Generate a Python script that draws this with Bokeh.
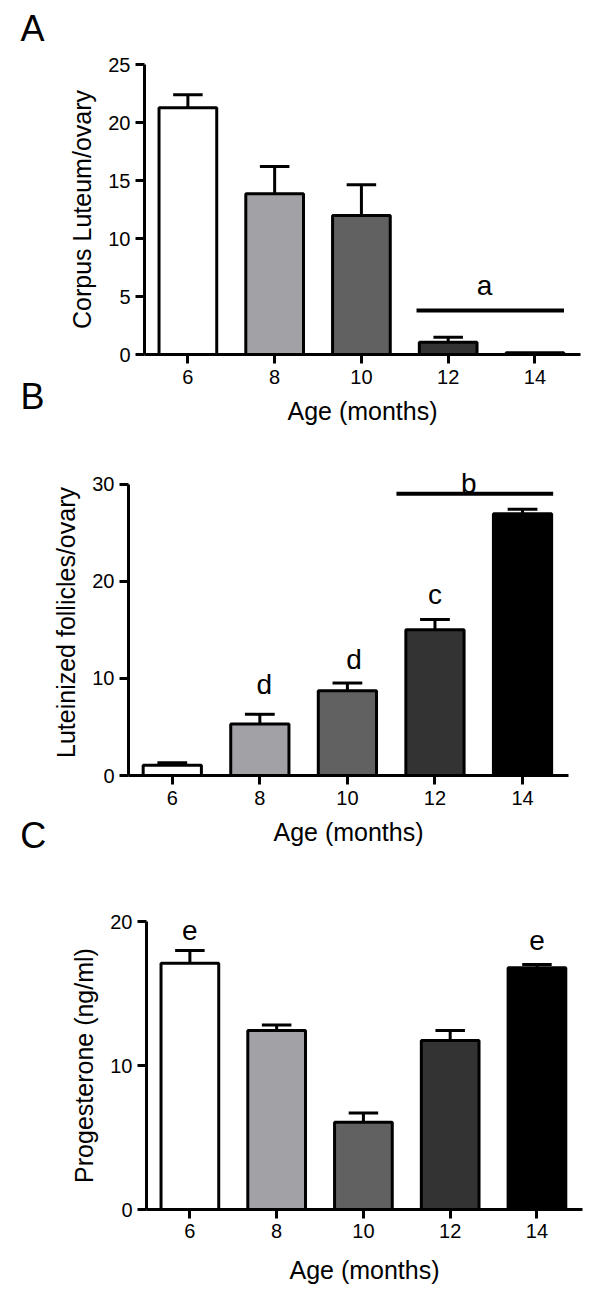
from bokeh.plotting import figure
from bokeh.models import ColumnDataSource, LabelSet, Label, FixedTicker, Range1d
from bokeh.embed import file_html
from bokeh.resources import INLINE
from bokeh.core.properties import value

# ---------------- data ----------------
ages = [6, 8, 10, 12, 14]
bar_colors = ["#ffffff", "#a2a1a6", "#616161", "#333333", "#000000"]

corpus_luteum_mean = [21.27, 13.85, 11.98, 1.06, 0.15]
corpus_luteum_sem = [1.12, 2.35, 2.65, 0.43, 0.0]

luteinized_mean = [1.05, 5.31, 8.73, 15.00, 26.95]
luteinized_sem = [0.25, 0.99, 0.79, 1.06, 0.45]

progesterone_mean = [17.10, 12.43, 6.06, 11.74, 16.78]
progesterone_sem = [0.89, 0.39, 0.65, 0.69, 0.23]

# significance letters (x in months, y in axis units)
sig_a_text = ["a"]
sig_a_x = [12.84]
sig_a_y = [5.09]
sig_a_bar = ([11.27, 14.67], 3.79)

sig_b_text = ["b", "c", "d", "d"]
sig_b_x = [12.77, 12.0, 8.1, 10.15]
sig_b_y = [29.1, 17.64, 8.39, 10.96]
sig_b_bar = ([11.12, 14.70], 29.0)

sig_c_text = ["e", "e"]
sig_c_x = [6.0, 14.0]
sig_c_y = [18.75, 17.99]

FONT = "Liberation Sans"
BAR_W = 1.33
CAP_W = 0.68
X_RANGE = (5.0, 15.05)
FIG_W = 592


def make_panel(means, sems, y_end, y_bound, y_ticks, y_label, left, fw, top, fh,
               bottom, tick_standoff, xlab_standoff):
    p = figure(frame_width=fw, frame_height=fh,
               min_border_left=left, min_border_right=FIG_W - left - fw,
               min_border_top=top, min_border_bottom=bottom,
               x_range=Range1d(*X_RANGE), y_range=Range1d(0, y_end),
               output_backend="svg", toolbar_location=None)
    p.outline_line_color = None
    p.xgrid.grid_line_color = None
    p.ygrid.grid_line_color = None
    p.background_fill_color = "white"

    src = ColumnDataSource(dict(x=ages, top=means, color=bar_colors))
    p.vbar(x="x", top="top", bottom=0, width=BAR_W, fill_color="color",
           line_color="black", line_width=3, source=src)

    ex, elo, ehi = [], [], []
    for a, m, s in zip(ages, means, sems):
        if s > 0:
            ex.append(a)
            elo.append(m)
            ehi.append(m + s)
    esrc = ColumnDataSource(dict(
        x=ex, lo=elo, hi=ehi,
        cx0=[a - CAP_W / 2 for a in ex], cx1=[a + CAP_W / 2 for a in ex]))
    p.segment(x0="x", y0="lo", x1="x", y1="hi", line_color="black",
              line_width=3, source=esrc)
    p.segment(x0="cx0", y0="hi", x1="cx1", y1="hi", line_color="black",
              line_width=3, source=esrc)

    p.xaxis.ticker = FixedTicker(ticks=ages)
    p.yaxis.ticker = FixedTicker(ticks=y_ticks)
    p.yaxis.bounds = (0, y_bound)
    p.xaxis.axis_label = "Age (months)"
    p.yaxis.axis_label = y_label
    for ax in (p.xaxis[0], p.yaxis[0]):
        ax.axis_line_width = 3
        ax.axis_line_color = "black"
        ax.major_tick_line_width = 3
        ax.major_tick_line_color = "black"
        ax.major_tick_in = 0
        ax.major_tick_out = 9
        ax.minor_tick_line_color = None
        ax.major_label_text_font = FONT
        ax.major_label_text_font_size = "20px"
        ax.major_label_text_color = "black"
        ax.axis_label_text_font = FONT
        ax.axis_label_text_font_size = "25px"
        ax.axis_label_text_font_style = "normal"
        ax.axis_label_text_color = "black"
    p.yaxis.major_label_standoff = 5
    p.yaxis.axis_label_standoff = 9
    p.xaxis.major_label_standoff = tick_standoff
    p.xaxis.axis_label_standoff = xlab_standoff
    return p


def add_letters(p, texts, xs, ys):
    src = ColumnDataSource(dict(x=xs, y=ys, t=texts))
    p.add_layout(LabelSet(x="x", y="y", text="t", source=src,
                          text_font=value(FONT), text_font_size="28px",
                          text_align="center", text_baseline="alphabetic",
                          text_color="black"))


def add_sig_line(p, bar):
    (x0, x1), y = bar
    p.segment(x0=[x0], y0=[y], x1=[x1], y1=[y], line_color="black", line_width=4)


def panel_letter(p, text, x, y):
    p.add_layout(Label(x=x, y=y, text=text, text_font=FONT, text_font_size="36px",
                       text_align="left", text_baseline="alphabetic",
                       text_color="black"), "left")


pa = make_panel(corpus_luteum_mean, corpus_luteum_sem, 25, 25, [0, 5, 10, 15, 20, 25],
                "Corpus Luteum/ovary", 144, 436, 64, 290, 86, 6, 10)
add_sig_line(pa, sig_a_bar)
add_letters(pa, sig_a_text, sig_a_x, sig_a_y)
panel_letter(pa, "A", 2.14, 28.1)
panel_letter(pa, "B", 2.14, -3.62)

pb = make_panel(luteinized_mean, luteinized_sem, 31.5, 30, [0, 10, 20, 30],
                "Luteinized follicles/ovary", 128, 440, 29, 306, 105, 6, 10)
add_sig_line(pb, sig_b_bar)
add_letters(pb, sig_b_text, sig_b_x, sig_b_y)
panel_letter(pb, "C", 2.53, -6.18)

pc = make_panel(progesterone_mean, progesterone_sem, 20, 20, [0, 10, 20],
                "Progesterone (ng/ml)", 146, 436, 41, 288, 79, 5, 15)
add_letters(pc, sig_c_text, sig_c_x, sig_c_y)

# three independent roots, stacked on the page (no frame alignment between them)
open("out.html", "w").write(file_html([pa, pb, pc], INLINE))
